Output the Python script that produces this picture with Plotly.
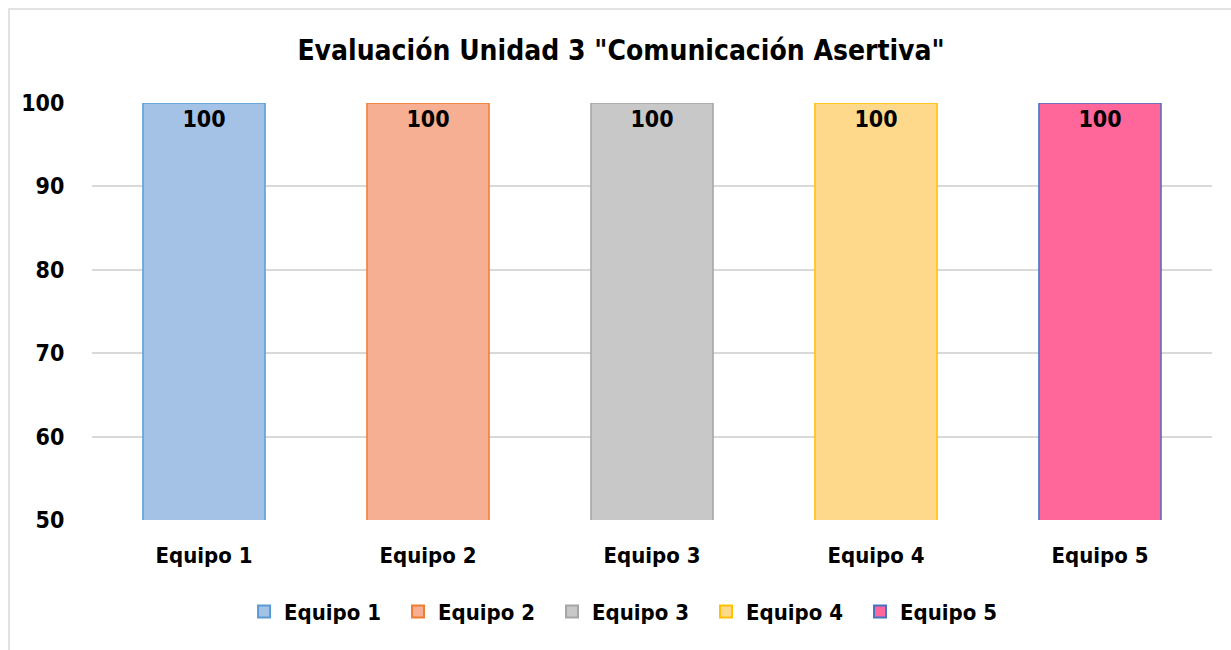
import plotly.graph_objects as go

# data
equipos = ['Equipo 1', 'Equipo 2', 'Equipo 3', 'Equipo 4', 'Equipo 5']
puntajes = [100, 100, 100, 100, 100]
y_ticks = [50, 60, 70, 80, 90, 100]

fill_colors = ['#A4C2E6', '#F6AF92', '#C8C8C8', '#FFD98B', '#FF6699']
line_colors = ['#5B9BD5', '#ED7D31', '#A5A5A5', '#FFC000', '#4472C4']

FONT = 'DejaVu Sans Condensed, Arial Narrow, sans-serif'

fig = go.Figure()

for eq, val, fc, lc in zip(equipos, puntajes, fill_colors, line_colors):
    fig.add_trace(go.Bar(
        x=[eq],
        y=[val],
        name=eq,
        width=0.545,
        marker=dict(color=fc, line=dict(color=lc, width=1.5)),
        text=[str(val)],
        textposition='inside',
        insidetextanchor='end',
        textangle=0,
        constraintext='none',
        textfont=dict(family=FONT, size=23, color='black', weight='bold'),
        cliponaxis=False,
    ))

# outer chart border (light grey frame)
fig.add_shape(type='rect', xref='paper', yref='paper',
              x0=-0.0741, x1=1.03, y0=-0.32, y1=1.2254,
              line=dict(color='#D9D9D9', width=1.5), fillcolor='rgba(0,0,0,0)',
              layer='below')

fig.update_layout(
    width=1231, height=650,
    margin=dict(l=92, r=19, t=103, b=130),
    paper_bgcolor='white',
    plot_bgcolor='white',
    barmode='overlay',
    title=dict(text='Evaluación Unidad 3 "Comunicación Asertiva"',
               x=0.5045, xanchor='center', y=0.923, yanchor='middle',
               font=dict(family=FONT, size=28, color='black', weight='bold')),
    showlegend=True,
    legend=dict(orientation='h', x=0.4795, xanchor='center', y=-0.22, yanchor='middle',
                font=dict(family=FONT, size=22, color='black', weight='bold'),
                entrywidth=109, entrywidthmode='pixels',
                itemsizing='constant', tracegroupgap=0),
    xaxis=dict(showgrid=False, showline=False, ticks='outside', ticklen=16,
               tickcolor='rgba(0,0,0,0)',
               tickfont=dict(family=FONT, size=22, color='black', weight='bold')),
    yaxis=dict(range=[50, 100], tickvals=y_ticks, showgrid=True,
               gridcolor='#D9D9D9', gridwidth=1.5, zeroline=False, showline=False,
               ticks='outside', ticklen=22, tickcolor='rgba(0,0,0,0)',
               tickfont=dict(family=FONT, size=23, color='black', weight='bold')),
)

fig.write_html('out.html', config={'displayModeBar': False},
               post_script="document.body.style.margin='0';")
